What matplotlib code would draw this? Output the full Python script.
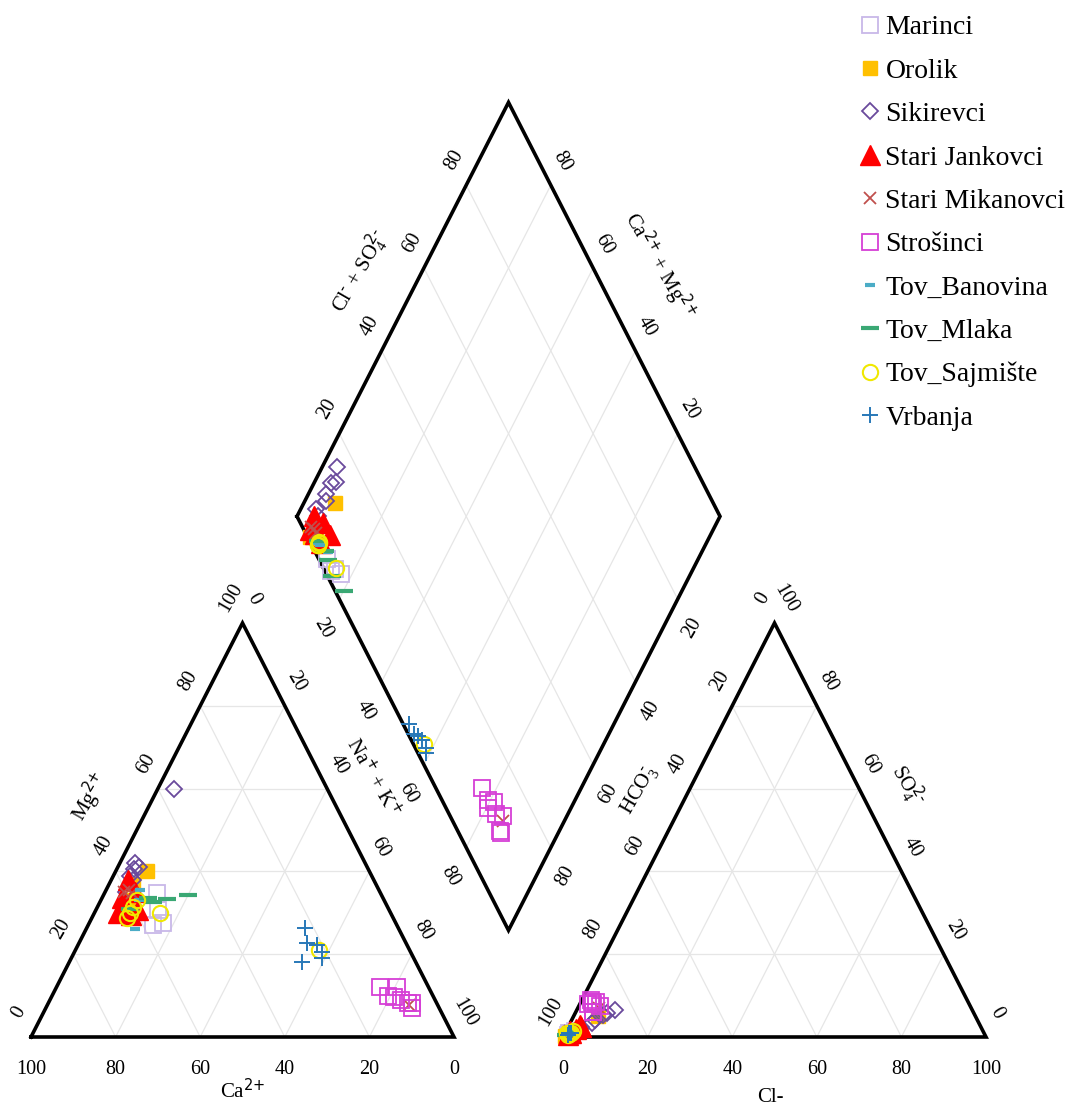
import matplotlib
matplotlib.use("Agg")
import matplotlib.pyplot as plt
import numpy as np

plt.rcParams['font.family'] = ['Liberation Serif', 'DejaVu Serif']
plt.rcParams['mathtext.default'] = 'regular'

# piper geometry (unit triangle side, gap between the two triangles)
H = np.sqrt(3) / 2
G = 0.2577

stations = ['Marinci', 'Orolik', 'Sikirevci', 'Stari Jankovci', 'Stari Mikanovci',
            'Strošinci', 'Tov_Banovina', 'Tov_Mlaka', 'Tov_Sajmište', 'Vrbanja']

# cations in % meq: Mg2+ and Na+ + K+ (Ca2+ is the rest)
mg = [
    [34.8, 30.7, 27.0, 27.5],
    [40.0, 37.0, 33.0],
    [42.0, 41.0, 40.5, 39.0, 38.0, 60.0, 35.0],
    [38.0, 35.0, 32.0, 30.0, 30.7, 29.5, 33.6],
    [35.0, 35.5, 34.8, 7.7],
    [12.0, 12.0, 10.0, 9.7, 9.0, 8.2, 8.2, 7.0],
    [26.0, 35.5, 33.0],
    [33.6, 32.6, 33.3, 34.3, 31.0],
    [33.0, 31.4, 30.0, 28.7, 30.0, 21.0],
    [26.3, 22.7, 18.0, 22.2, 20.5, 19.0],
]
nak = [
    [12.4, 14.7, 15.3, 17.5],
    [7.5, 5.6, 7.0],
    [3.5, 5.0, 4.0, 4.0, 5.0, 3.7, 5.0],
    [4.0, 7.0, 6.3, 5.5, 10.0, 9.0, 4.7],
    [4.5, 5.5, 6.5, 85.5],
    [76.5, 80.5, 79.5, 81.0, 83.0, 85.0, 86.0, 86.5],
    [11.5, 8.0, 9.0],
    [10.9, 12.5, 15.5, 20.0, 8.0],
    [8.5, 8.4, 8.4, 8.3, 15.5, 57.5],
    [51.6, 54.0, 55.0, 56.5, 58.5, 59.2],
]
# anions in % meq: SO4 2- and Cl- (HCO3- is the rest)
so4 = [
    [1.0, 0.5, 1.0, 1.5],
    [5.0, 0.3, 1.0],
    [6.5, 5.8, 5.3, 4.0, 3.4, 2.5, 2.0],
    [2.0, 3.0, 1.0, 1.5, 2.5, 1.0, 0.5],
    [1.0, 1.5, 1.0, 7.0],
    [9.0, 8.0, 8.5, 8.5, 8.0, 7.5, 6.0, 6.0],
    [1.5, 0.5, 1.0],
    [1.0, 1.0, 0.5, 1.0, 1.0],
    [1.0, 1.0, 0.5, 1.0, 1.5, 1.0],
    [0.5, 0.5, 1.0, 1.0, 1.0, 1.0],
]
cl = [
    [1.0, 1.0, 1.5, 2.0],
    [5.7, 0.3, 1.0],
    [9.0, 7.5, 6.8, 5.5, 5.2, 3.0, 3.0],
    [2.0, 2.5, 1.0, 1.0, 3.0, 1.5, 1.0],
    [1.0, 1.0, 1.5, 5.0],
    [2.0, 2.0, 2.5, 3.5, 3.0, 5.0, 4.0, 4.0],
    [1.5, 1.0, 1.0],
    [1.5, 1.0, 0.5, 1.0, 1.0],
    [1.0, 0.5, 1.0, 1.0, 1.5, 1.5],
    [1.0, 1.0, 1.0, 1.5, 1.5, 1.0],
]

styles = [
    dict(marker='s', mfc='none', mec='#c8b8e8', ms=11, mew=1.3),
    dict(marker='s', mfc='#ffc000', mec='#ffc000', ms=10),
    dict(marker='D', mfc='none', mec='#6a4a9c', ms=8.5, mew=1.3),
    dict(marker='^', mfc='#ff0000', mec='#ff0000', ms=14),
    dict(marker='x', color='#c0504d', ms=9, mew=1.3),
    dict(marker='s', mfc='none', mec='#d63fd6', ms=12, mew=1.3),
    dict(marker='_', color='#4bacc6', ms=7, mew=3),
    dict(marker='_', color='#3aa874', ms=13, mew=3),
    dict(marker='o', mfc='none', mec='#f0e800', ms=11, mew=1.5),
    dict(marker='+', color='#2878b8', ms=12, mew=1.4),
]


def cat_xy(m, n):
    m, n = np.asarray(m), np.asarray(n)
    return n + m / 2, m * H


def an_xy(s, c):
    s, c = np.asarray(s), np.asarray(c)
    return 1 + G + c + s / 2, s * H


def dia_xy(a, b):
    a, b = np.asarray(a), np.asarray(b)
    return (1 + G + a + b) / 2, H * (1 + G + b - a)


fig = plt.figure(figsize=(10.7, 11.1), dpi=100)
ax = fig.add_axes([0, 0, 1, 1])
ax.set_xlim(-31 / 423, (1070 - 31) / 423)
ax.set_ylim(-73 / 478, 1037 / 478)
ax.axis('off')

# grid
gc = dict(color='#e6e6e6', lw=0.9, zorder=1)
for t in [0.2, 0.4, 0.6, 0.8]:
    for f in (cat_xy, an_xy):
        for p, q in [((t, 0), (t, 1 - t)), ((0, t), (1 - t, t)), ((0, 1 - t), (1 - t, 0))]:
            x1, y1 = f(*p)
            x2, y2 = f(*q)
            ax.plot([x1, x2], [y1, y2], **gc)
    for p, q in [((t, 0), (t, 1)), ((0, t), (1, t))]:
        x1, y1 = dia_xy(*p)
        x2, y2 = dia_xy(*q)
        ax.plot([x1, x2], [y1, y2], **gc)

# outlines
oc = dict(color='black', lw=2.6, zorder=2, solid_joinstyle='miter')
ax.plot([0, 1, 0.5, 0], [0, 0, H, 0], **oc)
ax.plot([1 + G, 2 + G, 1.5 + G, 1 + G], [0, 0, H, 0], **oc)
dx, dy = dia_xy([0, 0, 1, 1, 0], [0, 1, 1, 0, 0])
ax.plot(dx, dy, **oc)

# tick labels
vals = np.array([0, 20, 40, 60, 80, 100])
fs = 14.5


def lab(txt, xy, off, rot):
    ax.annotate(txt, xy, xytext=off, textcoords='offset pixels', rotation=rot,
                ha='center', va='center', fontsize=fs, rotation_mode='anchor')


for v in vals:
    f = v / 100
    lab(str(v), cat_xy(0, 1 - f), (0, -33), 0)
    lab(str(v), cat_xy(f, 0), (-12, 25), 60)
    lab(str(v), cat_xy(1 - f, f), (11, 24), -60)
    lab(str(v), an_xy(0, f), (0, -33), 0)
    lab(str(v), an_xy(1 - f, 0), (-12, 25), 60)
    lab(str(v), an_xy(f, 1 - f), (11, 24), -60)
for v in vals[1:-1]:
    f = v / 100
    lab(str(v), dia_xy(0, f), (-12, 25), 60)
    lab(str(v), dia_xy(1 - f, 1), (11, 24), -60)
    lab(str(v), dia_xy(f, 0), (-16, -29), -60)
    lab(str(v), dia_xy(1, 1 - f), (15, -29), 60)

# axis titles
afs = 15
titles = [
    (r'Ca$^{\text{2+}}$', cat_xy(0, 0.5), (0, -53), 0),
    ('Cl-', an_xy(0, 0.5), (-4, -61), 0),
    (r'Mg$^{\text{2+}}$', cat_xy(0.5, 0), (-47, 33), 60),
    (r'Na$^{\text{+}}$ + K$^{\text{+}}$', cat_xy(0.5, 0.5), (25, 53), -60),
    (r'HCO$_{3}^{\text{-}}$', an_xy(0.5, 0), (-29, 40), 60),
    (r'SO$_{4}^{\text{2-}}$', an_xy(0.5, 0.5), (27, 45), -60),
    (r'Cl$^{\text{-}}$ + SO$_{4}^{\text{2-}}$', dia_xy(0, 0.5), (-43, 38), 60),
    (r'Ca$^{\text{2+}}$ + Mg$^{\text{2+}}$', dia_xy(0.5, 1), (46, 44), -60),
]
for txt, xy, off, rot in titles:
    ax.annotate(txt, xy, xytext=off, textcoords='offset pixels', rotation=rot,
                ha='center', va='center', fontsize=afs, rotation_mode='anchor')

# samples
handles = []
for i, name in enumerate(stations):
    m = np.array(mg[i]) / 100
    n = np.array(nak[i]) / 100
    s = np.array(so4[i]) / 100
    c = np.array(cl[i]) / 100
    st = styles[i]
    x1, y1 = cat_xy(m, n)
    x2, y2 = an_xy(s, c)
    x3, y3 = dia_xy(n, s + c)
    h, = ax.plot(x1, y1, ls='none', zorder=3 + i, label=name, **st)
    ax.plot(x2, y2, ls='none', zorder=3 + i, **st)
    ax.plot(x3, y3, ls='none', zorder=3 + i, **st)
    handles.append(h)

ax.legend(handles=handles, loc='upper left', bbox_to_anchor=(859 / 1070, 1 - 15 / 1110),
          frameon=False, fontsize=20, handlelength=0.8, handletextpad=0.15,
          labelspacing=0.645, borderpad=0, borderaxespad=0)

fig.savefig('out.png', dpi=100)
